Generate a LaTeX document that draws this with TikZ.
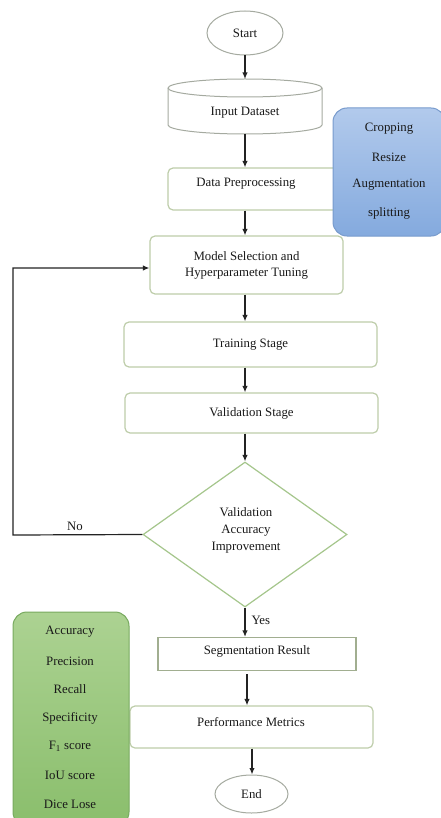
\documentclass[tikz,border=0pt]{standalone}
\usepackage{fontspec}
\setmainfont{Liberation Serif}
\usetikzlibrary{shapes.geometric,arrows.meta}
\definecolor{boxline}{RGB}{190,205,170}
\definecolor{ellline}{RGB}{165,170,160}
\definecolor{diamline}{RGB}{165,198,140}
\definecolor{bluefillT}{RGB}{178,202,236}
\definecolor{bluefillB}{RGB}{132,170,222}
\definecolor{blueline}{RGB}{120,155,205}
\definecolor{greenfillT}{RGB}{172,210,146}
\definecolor{greenfillB}{RGB}{138,190,108}
\definecolor{greenline}{RGB}{120,170,95}
\definecolor{arrowc}{RGB}{35,35,35}
\tikzset{
  x=1pt, y=-1pt,
  every node/.style={font=\fontsize{12.8}{15}\selectfont, text=black!90},
  procbox/.style={draw=boxline, line width=1.2pt, rounded corners=5pt, fill=white, align=center},
  sharpbox/.style={draw=boxline!85!black, line width=1.2pt, fill=white, align=center},
  ovalnode/.style={ellipse, draw=ellline, line width=1pt, fill=white},
  decide/.style={diamond, draw=diamline, line width=1.2pt, fill=white, align=center, aspect=1.42, inner sep=0pt},
  flow/.style={draw=arrowc, line width=1.2pt, -{Latex[length=6.5pt,width=5.5pt]}},
  sidebox/.style={rounded corners=14pt, line width=1pt, align=center},
}
\begin{document}
\begin{tikzpicture}
\useasboundingbox (0,0) rectangle (440,818);
\fill[white] (0,0) rectangle (440,818);

% Start
\node[ovalnode, minimum width=76pt, minimum height=44pt] (start) at (245,33) {Start};

% Input Dataset (cylinder)
\coordinate (inTop) at (245,79);
\coordinate (inBot) at (245,134);
\draw[draw=ellline, line width=1pt, fill=white]
  (168,88) -- (168,125) arc[start angle=180, end angle=360, x radius=77pt, y radius=9pt]
  -- (322,88) arc[start angle=0, end angle=180, x radius=77pt, y radius=9pt] -- cycle;
\draw[draw=ellline, line width=1pt] (168,88) arc[start angle=180, end angle=360, x radius=77pt, y radius=9pt];
\node (input) at (245,113) {Input Dataset};

% Data Preprocessing
\node[procbox, minimum width=180pt, minimum height=42pt] (prep) at (258,189) {};
\node at (246,184) {Data Preprocessing};

% Blue side box
\shade[sidebox, top color=bluefillT, bottom color=bluefillB] (333,108) rectangle (445,236);
\draw[sidebox, draw=blueline] (333,108) rectangle (445,236);
\node (crop) at (389,129) {Cropping};
\node (resz) at (389,157) {Resize};
\node (aug) at (389,185) {Augmentation};
\node (split) at (389,213) {splitting};

% Model Selection
\node[procbox, minimum width=193pt, minimum height=58pt] (model) at (246.5,265) {Model Selection and\\[1pt] Hyperparameter Tuning};

% Training
\node[procbox, minimum width=253pt, minimum height=45pt] (train) at (250.5,344.5) {Training Stage};

% Validation
\node[procbox, minimum width=253pt, minimum height=40pt] (valid) at (251.5,413) {Validation Stage};

% Decision
\node[decide, minimum width=204pt, minimum height=145pt] (dec) at (245,534.5) {};
\node[align=center, font=\fontsize{12.8}{17}\selectfont] at (246,530) {Validation\\Accuracy\\Improvement};

% Segmentation Result
\node[sharpbox, minimum width=198pt, minimum height=33pt] (seg) at (257,654) {};
\node at (257,651) {Segmentation Result};

% Performance Metrics
\node[procbox, minimum width=243pt, minimum height=42pt] (perf) at (251.5,727) {};
\node at (251,722) {Performance Metrics};

% End
\node[ovalnode, minimum width=73pt, minimum height=38pt] (end) at (251.5,794) {End};

% Green side box
\shade[sidebox, top color=greenfillT, bottom color=greenfillB] (13,612) rectangle (129,826);
\draw[sidebox, draw=greenline] (13,612) rectangle (129,826);
\node (m1) at (70,632) {Accuracy};
\node (m2) at (70,661) {Precision};
\node (m3) at (70,689) {Recall};
\node (m4) at (70,718) {Specificity};
\node (m5) at (70,746) {F\textsubscript{1} score};
\node (m6) at (70,775) {IoU score};
\node (m7) at (70,804) {Dice Lose};

% Connectors
\draw[flow] (start.south) -- (inTop);
\draw[flow] (inBot) -- (prep.north -| inBot);
\draw[flow] (prep.south -| inBot) -- (model.north -| inBot);
\draw[flow] (model.south -| inBot) -- (train.north -| inBot);
\draw[flow] (train.south -| inBot) -- (valid.north -| inBot);
\draw[flow] (valid.south -| dec.north) -- (dec.north);
\coordinate (loopA) at (13,535);
\coordinate (loopB) at (13,268);
\draw[flow] (dec.west) -- (loopA) -- (loopB) -- (model.west |- loopB);
\node at (75,526) {No};
\draw[flow] (dec.south) -- (seg.north -| dec.south);
\node[anchor=west] at (248,620) {Yes};
\draw[flow] (247,674) -- (perf.north -| 247,674);
\draw[flow] (perf.south -| 252,748) -- (end.north -| 252,748);
\end{tikzpicture}
\end{document}
